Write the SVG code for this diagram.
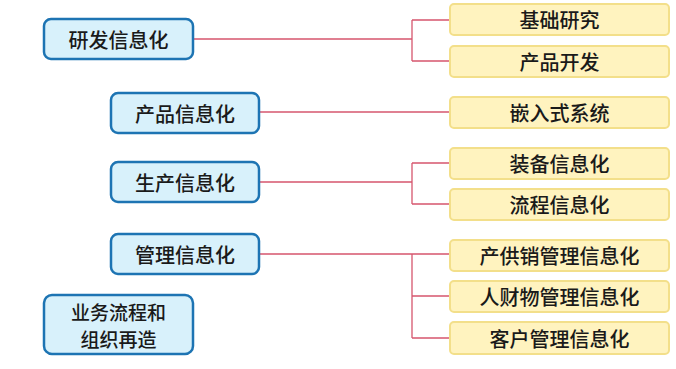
<svg xmlns="http://www.w3.org/2000/svg" width="676" height="369" viewBox="0 0 676 369">
<style>
.b{fill:#d8f1fb;stroke:#1d74b3;stroke-width:2.5}
.y{fill:#fff3bf;stroke:#f3df8a;stroke-width:2}
.t{font-family:"Noto Sans CJK SC",sans-serif;font-size:20px;fill:#1a1a1a;text-anchor:middle;dominant-baseline:central;font-weight:500}
.s{font-size:19px}
.c{fill:none;stroke:#d6566e;stroke-width:1.3}
</style>
<rect width="676" height="369" fill="#fff"/>
<g id="connectors">
<path class="c" d="M193 39H412M412 20V61M412 20H450M412 61H450"/>
<path class="c" d="M259 112H450"/>
<path class="c" d="M259 182H412M412 163V204M412 163H450M412 204H450"/>
<path class="c" d="M259 254H412M412 254V338M412 254H450M412 296H450M412 338H450"/>
</g>
<g id="n1"><rect class="b" x="44" y="19" width="149" height="40" rx="7"/><text class="t" x="118.5" y="39">研发信息化</text></g>
<g id="n2"><rect class="b" x="111" y="93" width="148" height="40" rx="7"/><text class="t" x="185" y="113">产品信息化</text></g>
<g id="n3"><rect class="b" x="111" y="162" width="148" height="40" rx="7"/><text class="t" x="185" y="182">生产信息化</text></g>
<g id="n4"><rect class="b" x="111" y="234" width="148" height="40" rx="7"/><text class="t" x="185" y="254">管理信息化</text></g>
<g id="n5"><rect class="b" x="44" y="295" width="149" height="59" rx="8"/><text class="t s" x="118.5" y="311">业务流程和</text><text class="t s" x="118.5" y="338.5">组织再造</text></g>
<g id="y1"><rect class="y" x="450" y="4" width="219" height="31" rx="4"/><text class="t" x="559.5" y="19.5">基础研究</text></g>
<g id="y2"><rect class="y" x="450" y="46" width="219" height="31" rx="4"/><text class="t" x="559.5" y="61.5">产品开发</text></g>
<g id="y3"><rect class="y" x="450" y="97" width="219" height="31" rx="4"/><text class="t" x="559.5" y="112.5">嵌入式系统</text></g>
<g id="y4"><rect class="y" x="450" y="148" width="219" height="31" rx="4"/><text class="t" x="559.5" y="163.5">装备信息化</text></g>
<g id="y5"><rect class="y" x="450" y="189" width="219" height="31" rx="4"/><text class="t" x="559.5" y="204.5">流程信息化</text></g>
<g id="y6"><rect class="y" x="450" y="240" width="219" height="31" rx="4"/><text class="t" x="559.5" y="255.5">产供销管理信息化</text></g>
<g id="y7"><rect class="y" x="450" y="281" width="219" height="31" rx="4"/><text class="t" x="559.5" y="296.5">人财物管理信息化</text></g>
<g id="y8"><rect class="y" x="450" y="322" width="219" height="32" rx="4"/><text class="t" x="559.5" y="338">客户管理信息化</text></g>
</svg>
